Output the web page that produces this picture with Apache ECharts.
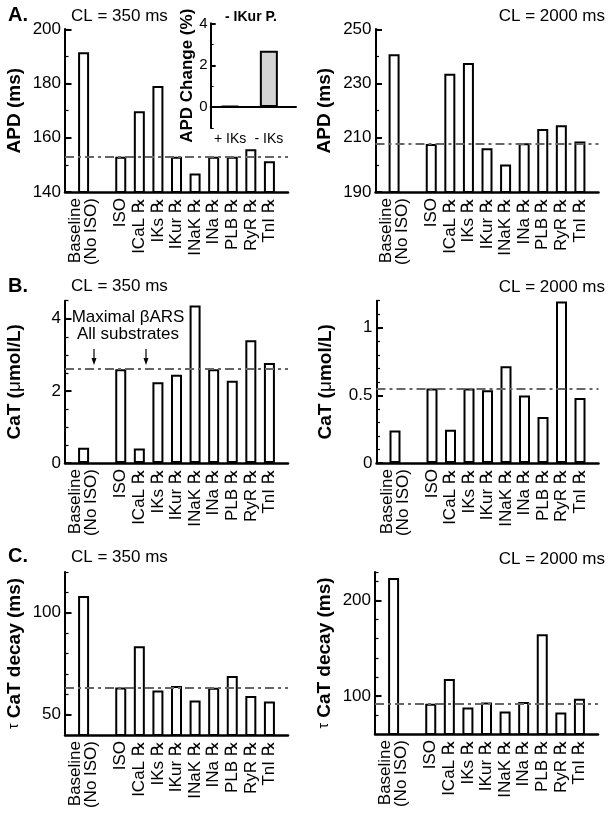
<!DOCTYPE html>
<html><head><meta charset="utf-8">
<script src="https://cdn.jsdelivr.net/npm/echarts@6/dist/echarts.min.js"></script>
<style>html,body{margin:0;padding:0;background:#fff}#c{width:611px;height:813px}</style>
</head><body><div id="c"></div><script>
// ---- data ----
const categories = ['Baseline\n(No ISO)', 'ISO', 'ICaL ℞', 'IKs ℞', 'IKur ℞', 'INaK ℞', 'INa ℞', 'PLB ℞', 'RyR ℞', 'TnI ℞'];
const apd350  = [191.5, 153.0, 169.8, 179.1, 153.0, 146.8, 153.0, 153.0, 155.8, 151.3];
const apd2000 = [240.8, 207.7, 233.6, 237.6, 206.1, 200.1, 208.0, 213.2, 214.6, 208.6];
const cat350  = [0.42, 2.60, 0.40, 2.24, 2.45, 4.37, 2.60, 2.28, 3.40, 2.77];
const cat2000 = [0.24, 0.55, 0.245, 0.55, 0.537, 0.715, 0.50, 0.34, 1.195, 0.48];
const tau350  = [108.2, 63.3, 83.6, 61.8, 64.0, 56.9, 63.2, 68.9, 59.2, 56.4];
const tau2000 = [223.7, 91.8, 117.8, 87.8, 93.0, 83.6, 93.7, 164.8, 82.6, 96.9];
const insetCategories = ['+ IKs', '- IKs'];
const insetValues = [0.05, 2.7];
// tick labels (major) and minor tick steps
const apd350Ticks  = [140, 160, 180, 200], apd350Step = 10;
const apd2000Ticks = [190, 210, 230, 250], apd2000Step = 10;
const cat350Ticks  = [0, 2, 4],            cat350Step = 0.5;
const cat2000Ticks = [0, 0.5, 1],          cat2000Step = 0.1;
const tau350Ticks  = [50, 100],            tau350Step = 10;
const tau2000Ticks = [100, 200],           tau2000Step = 20;
const insetTicks   = [0, 2, 4],            insetStep = 1;

// ---- layout ----
const FF = '"Liberation Sans", Arial, "DejaVu Sans", sans-serif';
const padCats = a => ['', a[0], ''].concat(a.slice(1), ['']);
const padVals = a => [null, a[0], null].concat(a.slice(1), [null]);

const grids = [], xAxes = [], yAxes = [], series = [];

// overlay grid carrying the long (major) ticks, aligned on the major tick span
function majorTickOverlay(box, yMin, yMax, major, len) {
  const first = major[0], last = major[major.length - 1];
  const span = yMax - yMin;
  const og = grids.length;
  grids.push({ left: box.left, width: box.width,
               top: box.top + (yMax - last) / span * box.height,
               height: (last - first) / span * box.height });
  xAxes.push({ gridIndex: og, type: 'value', show: false });
  yAxes.push({ gridIndex: og, type: 'value', min: 0, max: last - first, interval: major[1] - major[0], position: 'left',
    axisLine: { show: true, lineStyle: { color: '#000', width: 2 } },
    axisTick: { show: true, inside: true, length: len, lineStyle: { color: '#000', width: 2 } },
    axisLabel: { show: false }, splitLine: { show: false } });
}

function panel(box, vals, yMin, yMax, major, step, name) {
  const gi = grids.length;
  grids.push(box);
  xAxes.push({
    gridIndex: gi, type: 'category', data: padCats(categories), boundaryGap: false,
    axisTick: { show: false },
    axisLine: { lineStyle: { color: '#000', width: 2.5 } },
    axisLabel: { interval: 0, rotate: 90, fontSize: 17, fontFamily: FF, color: '#000', margin: 6, lineHeight: 16 },
    splitLine: { show: false }
  });
  const yi = yAxes.length;
  yAxes.push({
    gridIndex: gi, type: 'value', min: yMin, max: yMax, interval: step, position: 'left',
    axisLine: { show: true, lineStyle: { color: '#000', width: 2 } },
    axisTick: { show: true, inside: true, length: 3.5, lineStyle: { color: '#000', width: 1.2 } },
    axisLabel: { customValues: major, fontSize: 17, fontFamily: FF, color: '#000', margin: 4 },
    splitLine: { show: false },
    name: name, nameLocation: 'middle', nameRotate: 90, nameGap: 41,
    nameTextStyle: { fontFamily: FF, fontSize: 19, fontWeight: 'bold', color: '#000',
      rich: { n: { fontFamily: FF, fontSize: 19, fontWeight: 'normal', color: '#000' },
              t: { fontFamily: FF, fontSize: 14, fontWeight: 'normal', color: '#000' } } }
  });
  series.push({
    type: 'bar', xAxisIndex: gi, yAxisIndex: yi, data: padVals(vals), barWidth: 11,
    itemStyle: { color: '#fff', borderColor: '#000', borderWidth: 2 },
    markLine: { symbol: 'none', silent: true, label: { show: false },
      lineStyle: { color: '#666', width: 2, type: [9, 4, 3, 4] },
      data: [{ yAxis: vals[1] }] }
  });
  majorTickOverlay(box, yMin, yMax, major, 6.5);
}

panel({ left: 65, top: 29.3, width: 223, height: 162.7 }, apd350, 140, 200, apd350Ticks, apd350Step, 'APD (ms)');
panel({ left: 375.5, top: 29.3, width: 223, height: 162.7 }, apd2000, 190, 250, apd2000Ticks, apd2000Step, 'APD (ms)');
panel({ left: 65, top: 300.7, width: 223, height: 162.3 }, cat350, 0, 4.5, cat350Ticks, cat350Step, 'CaT ({n|μ}mol/L)');
panel({ left: 376.5, top: 300.7, width: 222, height: 162.3 }, cat2000, 0, 1.2, cat2000Ticks, cat2000Step, 'CaT ({n|μ}mol/L)');
panel({ left: 65, top: 572, width: 223, height: 163 }, tau350, 40, 120, tau350Ticks, tau350Step, '{t|τ} CaT decay (ms)');
panel({ left: 375, top: 572, width: 223, height: 162 }, tau2000, 60, 230, tau2000Ticks, tau2000Step, '{t|τ} CaT decay (ms)');

// inset
const insetPos = [5, 15];
const insetBox = { left: 210.7, top: 23.5, width: 85.3, height: 104.5 };
const ig = grids.length;
grids.push(insetBox);
xAxes.push({
  gridIndex: ig, type: 'value', min: 0, max: 22,
  axisLine: { lineStyle: { color: '#000', width: 2 } }, axisTick: { show: false },
  axisLabel: { customValues: insetPos, formatter: v => insetCategories[insetPos.indexOf(v)] || '',
    fontSize: 14, fontFamily: FF, color: '#000', margin: 4 },
  splitLine: { show: false }
});
const iy = yAxes.length;
yAxes.push({
  gridIndex: ig, type: 'value', min: -1, max: 4, interval: insetStep, position: 'left',
  axisLine: { show: true, lineStyle: { color: '#000', width: 2 } },
  axisTick: { show: true, inside: true, length: 3, lineStyle: { color: '#000', width: 1 } },
  axisLabel: { customValues: insetTicks, fontSize: 15, fontFamily: FF, color: '#000', margin: 3 },
  splitLine: { show: false },
  name: 'APD Change (%)', nameLocation: 'middle', nameRotate: 90, nameGap: 9,
  nameTextStyle: { fontFamily: FF, fontSize: 17, fontWeight: 'bold', color: '#000' }
});
series.push({
  type: 'bar', xAxisIndex: ig, yAxisIndex: iy, barWidth: 18,
  data: insetValues.map((v, i) => [insetPos[i], v]),
  itemStyle: { color: '#d3d3d3', borderColor: '#000', borderWidth: 2 }
});
majorTickOverlay(insetBox, -1, 4, insetTicks, 5);

// texts
function txt(text, x, y, font, align) {
  return { type: 'text', x: x, y: y, z: 100,
    style: { text: text, font: font, fill: '#000', align: align || 'left', verticalAlign: 'middle',
             textAlign: align || 'left', textVerticalAlign: 'middle' } };
}
const FB = 'bold 20px ' + FF, FN = '17px ' + FF;
const graphic = [
  txt('A.', 8, 15.5, FB), txt('B.', 8, 286, FB), txt('C.', 8, 556.5, FB),
  txt('CL = 350 ms', 71, 16, FN), txt('CL = 350 ms', 71, 286, FN), txt('CL = 350 ms', 71, 557, FN),
  txt('CL = 2000 ms', 605, 16, FN, 'right'), txt('CL = 2000 ms', 605, 287, FN, 'right'), txt('CL = 2000 ms', 605, 559, FN, 'right'),
  txt('- IKur P.', 251, 17.5, 'bold 14px ' + FF, 'center'),
  txt('Maximal βARS', 128, 317, FN, 'center'),
  txt('All substrates', 128, 334, FN, 'center')
];
[94, 146].forEach(ax => {
  graphic.push({ type: 'line', z: 100, shape: { x1: ax, y1: 349, x2: ax, y2: 360 }, style: { stroke: '#000', lineWidth: 1.2 } });
  graphic.push({ type: 'polygon', z: 100, shape: { points: [[ax - 2.5, 358], [ax + 2.5, 358], [ax, 365]] }, style: { fill: '#000' } });
});

const chart = echarts.init(document.getElementById('c'), null, { renderer: 'canvas' });
chart.setOption({
  animation: false,
  backgroundColor: '#fff',
  textStyle: { fontFamily: FF },
  grid: grids, xAxis: xAxes, yAxis: yAxes, series: series, graphic: graphic
});
</script></body></html>
